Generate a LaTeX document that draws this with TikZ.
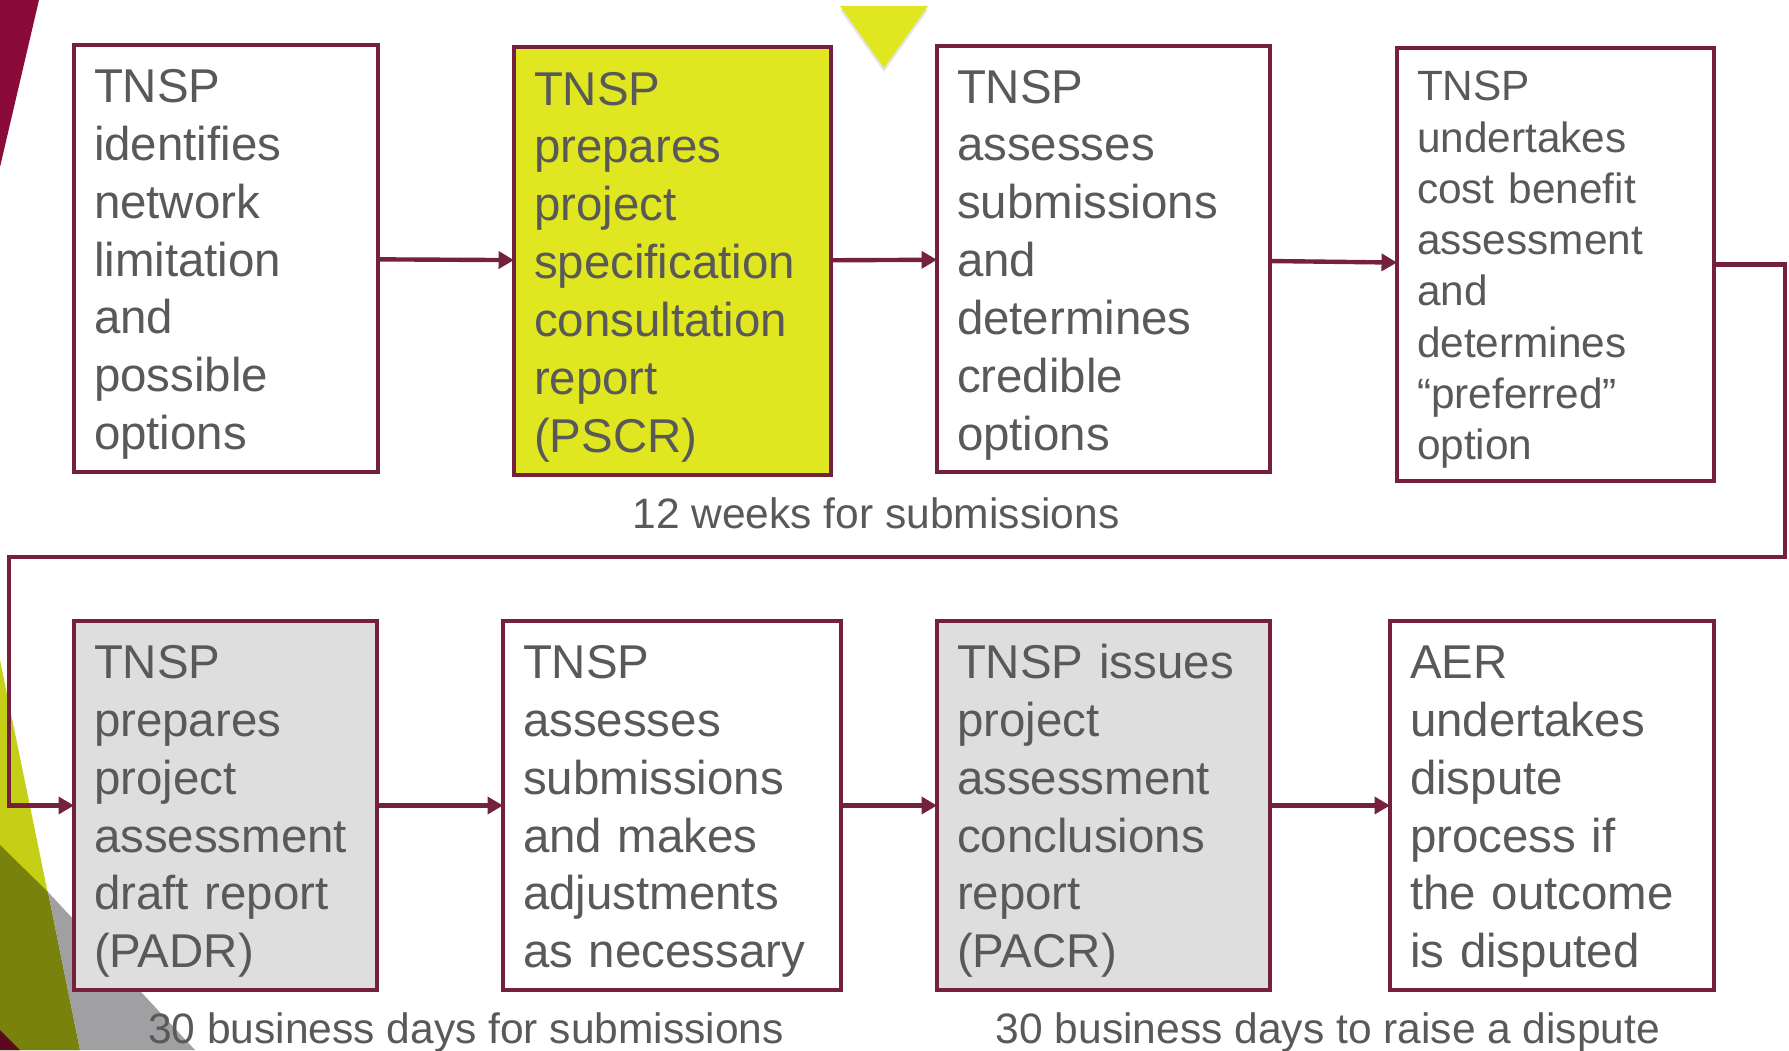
\documentclass[tikz,border=0pt]{standalone}
\usepackage{fontspec}
\setmainfont{Liberation Sans}
\usetikzlibrary{arrows.meta,shadows}
\definecolor{rittMaroon}{RGB}{116,33,62}
\definecolor{rittRed}{RGB}{138,10,58}
\definecolor{rittLime}{RGB}{224,230,31}
\definecolor{rittGrey}{RGB}{222,222,222}
\definecolor{rittText}{RGB}{89,89,89}
\definecolor{decoLime}{RGB}{197,207,22}
\definecolor{decoOlive}{RGB}{122,130,14}
\definecolor{decoGrey}{RGB}{160,160,163}
\definecolor{decoDark}{RGB}{90,10,30}

\tikzset{
  stagebox/.style={draw=rittMaroon,line width=1.2pt,text=rittText,align=left,
    inner xsep=0.2cm,inner ysep=0pt,outer sep=0pt,
    execute at begin node={\rule{0pt}{0.95em}},
    font=\fontsize{13.5}{16.45}\selectfont},
  flow/.style={draw=rittMaroon,line width=1.25pt,-{Triangle[length=4.4pt,width=4.8pt]}},
  period/.style={text=rittText,font=\fontsize{12.1}{14}\selectfont,anchor=base}
}

\begin{document}
\begin{tikzpicture}
  \useasboundingbox (0,0) rectangle (17.89,10.5);
  \fill[white] (0,0) rectangle (17.89,10.5);

  % Corner decorations
  \fill[rittRed] (0,10.5) -- (0.39,10.5) -- (0,8.83) -- cycle;
  \fill[decoLime] (0,3.9) -- (0.80,0) -- (0,0) -- cycle;
  \fill[decoOlive] (0,2.05) -- (0.48,1.58) -- (0.80,0) -- (0,0) -- cycle;
  \fill[decoGrey] (0.48,1.58) -- (1.95,0) -- (0.80,0) -- cycle;
  \fill[decoDark] (0,0.2) -- (0.2,0) -- (0,0) -- cycle;

  % Marker
  \fill[rittLime,drop shadow={opacity=0.2,shadow xshift=0,shadow yshift=-0.04}]
    (8.40,10.44) -- (9.28,10.44) -- (8.84,9.82) -- cycle;

  % Row 1
  \node[stagebox,minimum width=3.04cm,minimum height=4.27cm,text width=2.64cm] (b1) at (2.26,7.915)
    {TNSP\\identifies\\network\\limitation\\and\\possible\\options};
  \node[stagebox,fill=rittLime,minimum width=3.17cm,minimum height=4.28cm,text width=2.77cm] (b2) at (6.725,7.89)
    {TNSP\\prepares\\project\\specification\\consultation\\report\\(PSCR)};
  \node[stagebox,minimum width=3.33cm,minimum height=4.26cm,text width=2.93cm] (b3) at (11.035,7.91)
    {TNSP\\assesses\\submissions\\and\\determines\\credible\\options};
  \node[stagebox,minimum width=3.17cm,minimum height=4.33cm,text width=2.77cm,
    font=\fontsize{12.05}{14.57}\selectfont] (b4) at (15.555,7.855)
    {TNSP\\undertakes\\cost benefit\\assessment\\and\\determines\\“preferred”\\option};

  % Row 2
  \node[stagebox,fill=rittGrey,minimum width=3.03cm,minimum height=3.69cm,text width=2.63cm] (b5) at (2.255,2.445)
    {TNSP\\prepares\\project\\assessment\\draft report\\(PADR)};
  \node[stagebox,minimum width=3.38cm,minimum height=3.69cm,text width=2.98cm] (b6) at (6.72,2.445)
    {TNSP\\assesses\\submissions\\and makes\\adjustments\\as necessary};
  \node[stagebox,fill=rittGrey,minimum width=3.33cm,minimum height=3.69cm,text width=2.93cm] (b7) at (11.035,2.445)
    {TNSP issues\\project\\assessment\\conclusions\\report\\(PACR)};
  \node[stagebox,minimum width=3.24cm,minimum height=3.69cm,text width=2.84cm] (b8) at (15.52,2.445)
    {AER\\undertakes\\dispute\\process if\\the outcome\\is disputed};

  % Periods
  \node[period] (p1) at (8.76,5.22) {12 weeks for submissions};
  \node[period] (p2) at (4.66,0.07) {30 business days for submissions};
  \node[period] (p3) at (13.28,0.07) {30 business days to raise a dispute};

  % Connectors
  \coordinate (turnR) at (17.85,4.93);
  \coordinate (turnL) at (0.09,4.93);
  \draw[flow] (b1) -- (b2);
  \draw[flow] (b2) -- (b3);
  \draw[flow] (b3) -- (b4);
  \draw[flow] (b4.east) -| (turnR) -- (turnL) |- (b5.west);
  \draw[flow] (b5) -- (b6);
  \draw[flow] (b6) -- (b7);
  \draw[flow] (b7) -- (b8);
\end{tikzpicture}
\end{document}
